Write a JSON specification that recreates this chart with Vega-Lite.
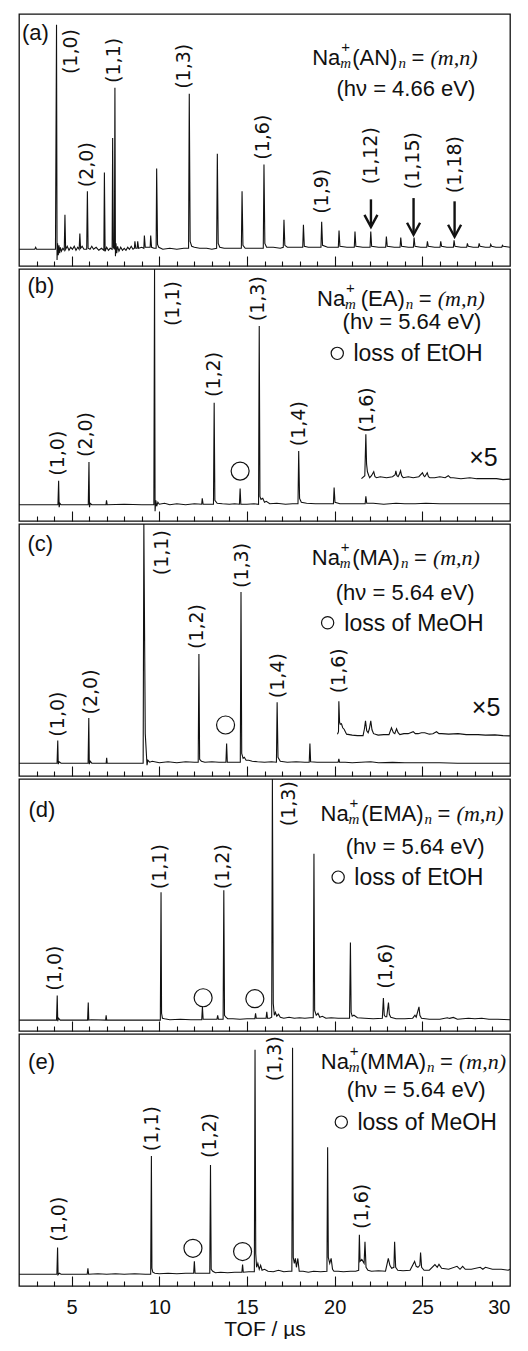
{
"$schema": "https://vega.github.io/schema/vega-lite/v6.json",
"background": "white",
"padding": {"left": 16, "top": 13, "right": 0, "bottom": 0},
"config": {"font": "Liberation Sans", "view": {"stroke": "#111", "strokeWidth": 1.3}, "axis": {"grid": false}, "concat": {"spacing": 0}, "facet": {"spacing": 0}},
"spacing": 0,
"vconcat": [
{
"data": {"values": [
{"p":"a","k":"s","tof":2,"i":4},{"p":"a","k":"s","tof":2.9,"i":4},{"p":"a","k":"s","tof":2.95,"i":6},{"p":"a","k":"s","tof":3.0,"i":4},{"p":"a","k":"s","tof":4.08,"i":4},{"p":"a","k":"s","tof":4.14,"i":232},{"p":"a","k":"s","tof":4.17,"i":-7},{"p":"a","k":"s","tof":4.2,"i":10},{"p":"a","k":"s","tof":4.24,"i":-2},{"p":"a","k":"s","tof":4.28,"i":8},{"p":"a","k":"s","tof":4.32,"i":0},{"p":"a","k":"s","tof":4.36,"i":6},{"p":"a","k":"s","tof":4.42,"i":2},{"p":"a","k":"s","tof":4.5,"i":5},{"p":"a","k":"s","tof":4.58,"i":3},{"p":"a","k":"s","tof":4.62,"i":39},{"p":"a","k":"s","tof":4.66,"i":4},{"p":"a","k":"s","tof":4.75,"i":7},{"p":"a","k":"s","tof":4.85,"i":3},{"p":"a","k":"s","tof":4.95,"i":6},{"p":"a","k":"s","tof":5.05,"i":4},{"p":"a","k":"s","tof":5.15,"i":7},{"p":"a","k":"s","tof":5.25,"i":3},{"p":"a","k":"s","tof":5.35,"i":6},{"p":"a","k":"s","tof":5.43,"i":4},{"p":"a","k":"s","tof":5.47,"i":20},{"p":"a","k":"s","tof":5.51,"i":5},{"p":"a","k":"s","tof":5.6,"i":7},{"p":"a","k":"s","tof":5.7,"i":4},{"p":"a","k":"s","tof":5.86,"i":4},{"p":"a","k":"s","tof":5.9,"i":63},{"p":"a","k":"s","tof":5.94,"i":5},{"p":"a","k":"s","tof":6.05,"i":4},{"p":"a","k":"s","tof":6.15,"i":7},{"p":"a","k":"s","tof":6.25,"i":4},{"p":"a","k":"s","tof":6.4,"i":6},{"p":"a","k":"s","tof":6.55,"i":3},{"p":"a","k":"s","tof":6.7,"i":5},{"p":"a","k":"s","tof":6.84,"i":3},{"p":"a","k":"s","tof":6.87,"i":82},{"p":"a","k":"s","tof":6.91,"i":2},{"p":"a","k":"s","tof":7.0,"i":6},{"p":"a","k":"s","tof":7.1,"i":3},{"p":"a","k":"s","tof":7.2,"i":5},{"p":"a","k":"s","tof":7.31,"i":4},{"p":"a","k":"s","tof":7.34,"i":117},{"p":"a","k":"s","tof":7.38,"i":6},{"p":"a","k":"s","tof":7.44,"i":4},{"p":"a","k":"s","tof":7.47,"i":168},{"p":"a","k":"s","tof":7.5,"i":-3},{"p":"a","k":"s","tof":7.53,"i":10},{"p":"a","k":"s","tof":7.57,"i":0},{"p":"a","k":"s","tof":7.62,"i":7},{"p":"a","k":"s","tof":7.7,"i":2},{"p":"a","k":"s","tof":7.8,"i":6},{"p":"a","k":"s","tof":7.9,"i":3},{"p":"a","k":"s","tof":8.0,"i":5},{"p":"a","k":"s","tof":8.1,"i":3},{"p":"a","k":"s","tof":8.2,"i":6},{"p":"a","k":"s","tof":8.3,"i":4},{"p":"a","k":"s","tof":8.4,"i":7},{"p":"a","k":"s","tof":8.5,"i":4},{"p":"a","k":"s","tof":8.58,"i":5},{"p":"a","k":"s","tof":8.61,"i":12},{"p":"a","k":"s","tof":8.66,"i":5},{"p":"a","k":"s","tof":8.74,"i":5},{"p":"a","k":"s","tof":8.77,"i":12},{"p":"a","k":"s","tof":8.82,"i":5},{"p":"a","k":"s","tof":9.0,"i":6},{"p":"a","k":"s","tof":9.12,"i":5},{"p":"a","k":"s","tof":9.15,"i":18},{"p":"a","k":"s","tof":9.2,"i":6},{"p":"a","k":"s","tof":9.35,"i":6},{"p":"a","k":"s","tof":9.48,"i":6},{"p":"a","k":"s","tof":9.51,"i":18},{"p":"a","k":"s","tof":9.56,"i":6},{"p":"a","k":"s","tof":9.7,"i":5},{"p":"a","k":"s","tof":9.82,"i":5},{"p":"a","k":"s","tof":9.85,"i":86},{"p":"a","k":"s","tof":9.9,"i":9},{"p":"a","k":"s","tof":9.97,"i":6},{"p":"a","k":"s","tof":10.2,"i":4},{"p":"a","k":"s","tof":10.6,"i":5},{"p":"a","k":"s","tof":11.0,"i":4},{"p":"a","k":"s","tof":11.4,"i":5},{"p":"a","k":"s","tof":11.67,"i":5},{"p":"a","k":"s","tof":11.71,"i":162},{"p":"a","k":"s","tof":11.76,"i":12},{"p":"a","k":"s","tof":11.85,"i":7},{"p":"a","k":"s","tof":12.0,"i":6},{"p":"a","k":"s","tof":12.3,"i":5},{"p":"a","k":"s","tof":12.7,"i":5},{"p":"a","k":"s","tof":13.0,"i":4},{"p":"a","k":"s","tof":13.27,"i":5},{"p":"a","k":"s","tof":13.31,"i":101},{"p":"a","k":"s","tof":13.36,"i":10},{"p":"a","k":"s","tof":13.45,"i":6},{"p":"a","k":"s","tof":13.7,"i":5},{"p":"a","k":"s","tof":14.0,"i":5},{"p":"a","k":"s","tof":14.4,"i":5},{"p":"a","k":"s","tof":14.68,"i":5},{"p":"a","k":"s","tof":14.72,"i":63},{"p":"a","k":"s","tof":14.77,"i":8},{"p":"a","k":"s","tof":14.9,"i":5},{"p":"a","k":"s","tof":15.3,"i":5},{"p":"a","k":"s","tof":15.6,"i":5},{"p":"a","k":"s","tof":15.93,"i":5},{"p":"a","k":"s","tof":15.97,"i":90},{"p":"a","k":"s","tof":16.02,"i":10},{"p":"a","k":"s","tof":16.12,"i":6},{"p":"a","k":"s","tof":16.5,"i":6},{"p":"a","k":"s","tof":16.9,"i":5},{"p":"a","k":"s","tof":17.07,"i":6},{"p":"a","k":"s","tof":17.11,"i":34},{"p":"a","k":"s","tof":17.16,"i":8},{"p":"a","k":"s","tof":17.3,"i":6},{"p":"a","k":"s","tof":17.8,"i":6},{"p":"a","k":"s","tof":18.18,"i":6},{"p":"a","k":"s","tof":18.22,"i":29},{"p":"a","k":"s","tof":18.27,"i":7},{"p":"a","k":"s","tof":18.5,"i":6},{"p":"a","k":"s","tof":18.9,"i":6},{"p":"a","k":"s","tof":19.22,"i":6},{"p":"a","k":"s","tof":19.26,"i":32},{"p":"a","k":"s","tof":19.31,"i":8},{"p":"a","k":"s","tof":19.6,"i":6},{"p":"a","k":"s","tof":20.0,"i":6},{"p":"a","k":"s","tof":20.21,"i":6},{"p":"a","k":"s","tof":20.25,"i":23},{"p":"a","k":"s","tof":20.3,"i":7},{"p":"a","k":"s","tof":20.7,"i":6},{"p":"a","k":"s","tof":21.12,"i":6},{"p":"a","k":"s","tof":21.16,"i":22},{"p":"a","k":"s","tof":21.21,"i":7},{"p":"a","k":"s","tof":21.6,"i":6},{"p":"a","k":"s","tof":22.02,"i":6},{"p":"a","k":"s","tof":22.06,"i":22},{"p":"a","k":"s","tof":22.11,"i":7},{"p":"a","k":"s","tof":22.5,"i":6},{"p":"a","k":"s","tof":22.91,"i":6},{"p":"a","k":"s","tof":22.95,"i":17},{"p":"a","k":"s","tof":23.0,"i":7},{"p":"a","k":"s","tof":23.4,"i":6},{"p":"a","k":"s","tof":23.73,"i":6},{"p":"a","k":"s","tof":23.77,"i":16},{"p":"a","k":"s","tof":23.82,"i":7},{"p":"a","k":"s","tof":24.2,"i":6},{"p":"a","k":"s","tof":24.49,"i":6},{"p":"a","k":"s","tof":24.53,"i":16},{"p":"a","k":"s","tof":24.58,"i":7},{"p":"a","k":"s","tof":24.9,"i":6},{"p":"a","k":"s","tof":25.25,"i":6},{"p":"a","k":"s","tof":25.29,"i":12},{"p":"a","k":"s","tof":25.34,"i":7},{"p":"a","k":"s","tof":25.7,"i":6},{"p":"a","k":"s","tof":26.01,"i":6},{"p":"a","k":"s","tof":26.05,"i":12},{"p":"a","k":"s","tof":26.1,"i":7},{"p":"a","k":"s","tof":26.4,"i":6},{"p":"a","k":"s","tof":26.77,"i":6},{"p":"a","k":"s","tof":26.81,"i":13},{"p":"a","k":"s","tof":26.86,"i":7},{"p":"a","k":"s","tof":27.2,"i":6},{"p":"a","k":"s","tof":27.53,"i":6},{"p":"a","k":"s","tof":27.57,"i":10},{"p":"a","k":"s","tof":27.62,"i":7},{"p":"a","k":"s","tof":27.9,"i":6},{"p":"a","k":"s","tof":28.2,"i":6},{"p":"a","k":"s","tof":28.24,"i":10},{"p":"a","k":"s","tof":28.29,"i":7},{"p":"a","k":"s","tof":28.6,"i":6},{"p":"a","k":"s","tof":28.86,"i":6},{"p":"a","k":"s","tof":28.9,"i":9},{"p":"a","k":"s","tof":28.95,"i":7},{"p":"a","k":"s","tof":29.2,"i":6},{"p":"a","k":"s","tof":29.53,"i":6},{"p":"a","k":"s","tof":29.57,"i":8},{"p":"a","k":"s","tof":29.62,"i":7},{"p":"a","k":"s","tof":30,"i":6},

{"p":"b","k":"s","tof":2,"i":3.5},{"p":"b","k":"s","tof":4.22,"i":3.5},{"p":"b","k":"s","tof":4.26,"i":28},{"p":"b","k":"s","tof":4.29,"i":1},{"p":"b","k":"s","tof":4.33,"i":5},{"p":"b","k":"s","tof":4.4,"i":3.5},{"p":"b","k":"s","tof":5.95,"i":3.5},{"p":"b","k":"s","tof":5.99,"i":47},{"p":"b","k":"s","tof":6.02,"i":1},{"p":"b","k":"s","tof":6.06,"i":5},{"p":"b","k":"s","tof":6.15,"i":3.5},{"p":"b","k":"s","tof":6.96,"i":3.5},{"p":"b","k":"s","tof":6.99,"i":8},{"p":"b","k":"s","tof":7.03,"i":3.5},{"p":"b","k":"s","tof":8.0,"i":4},{"p":"b","k":"s","tof":9.0,"i":3.5},{"p":"b","k":"s","tof":9.69,"i":3.5},{"p":"b","k":"s","tof":9.73,"i":243},{"p":"b","k":"s","tof":9.76,"i":-3},{"p":"b","k":"s","tof":9.8,"i":8},{"p":"b","k":"s","tof":9.85,"i":2},{"p":"b","k":"s","tof":9.92,"i":6},{"p":"b","k":"s","tof":10.0,"i":4},{"p":"b","k":"s","tof":10.3,"i":5},{"p":"b","k":"s","tof":10.6,"i":3.5},{"p":"b","k":"s","tof":11.0,"i":4.5},{"p":"b","k":"s","tof":11.5,"i":3.5},{"p":"b","k":"s","tof":12.0,"i":4.5},{"p":"b","k":"s","tof":12.42,"i":4},{"p":"b","k":"s","tof":12.45,"i":10},{"p":"b","k":"s","tof":12.5,"i":4},{"p":"b","k":"s","tof":12.8,"i":4},{"p":"b","k":"s","tof":13.09,"i":4},{"p":"b","k":"s","tof":13.13,"i":107},{"p":"b","k":"s","tof":13.17,"i":8},{"p":"b","k":"s","tof":13.3,"i":5},{"p":"b","k":"s","tof":13.6,"i":4.5},{"p":"b","k":"s","tof":14.0,"i":4},{"p":"b","k":"s","tof":14.3,"i":4.5},{"p":"b","k":"s","tof":14.57,"i":4},{"p":"b","k":"s","tof":14.61,"i":20},{"p":"b","k":"s","tof":14.65,"i":4},{"p":"b","k":"s","tof":15.0,"i":4},{"p":"b","k":"s","tof":15.4,"i":4.5},{"p":"b","k":"s","tof":15.66,"i":4},{"p":"b","k":"s","tof":15.7,"i":185},{"p":"b","k":"s","tof":15.74,"i":12},{"p":"b","k":"s","tof":15.8,"i":9},{"p":"b","k":"s","tof":15.9,"i":10},{"p":"b","k":"s","tof":16.0,"i":6},{"p":"b","k":"s","tof":16.1,"i":7},{"p":"b","k":"s","tof":16.3,"i":4.5},{"p":"b","k":"s","tof":16.7,"i":5},{"p":"b","k":"s","tof":17.2,"i":4},{"p":"b","k":"s","tof":17.6,"i":4.5},{"p":"b","k":"s","tof":17.91,"i":4.5},{"p":"b","k":"s","tof":17.95,"i":58},{"p":"b","k":"s","tof":18.0,"i":10},{"p":"b","k":"s","tof":18.1,"i":6},{"p":"b","k":"s","tof":18.4,"i":5},{"p":"b","k":"s","tof":18.9,"i":4.5},{"p":"b","k":"s","tof":19.5,"i":4.5},{"p":"b","k":"s","tof":19.93,"i":4.5},{"p":"b","k":"s","tof":19.97,"i":21},{"p":"b","k":"s","tof":20.02,"i":6},{"p":"b","k":"s","tof":20.3,"i":4.5},{"p":"b","k":"s","tof":20.8,"i":4.5},{"p":"b","k":"s","tof":21.3,"i":4.5},{"p":"b","k":"s","tof":21.74,"i":4.5},{"p":"b","k":"s","tof":21.78,"i":12},{"p":"b","k":"s","tof":21.83,"i":5},{"p":"b","k":"s","tof":22.2,"i":5},{"p":"b","k":"s","tof":22.8,"i":4},{"p":"b","k":"s","tof":23.5,"i":5},{"p":"b","k":"s","tof":24.0,"i":4.5},{"p":"b","k":"s","tof":24.6,"i":4.5},{"p":"b","k":"s","tof":25.2,"i":5},{"p":"b","k":"s","tof":26.0,"i":4.5},{"p":"b","k":"s","tof":27.0,"i":4.5},{"p":"b","k":"s","tof":28.0,"i":4.5},{"p":"b","k":"s","tof":29.0,"i":4.5},{"p":"b","k":"s","tof":30,"i":4.5},
{"p":"b","k":"s5","tof":21.53,"i":30},{"p":"b","k":"s5","tof":21.72,"i":33},{"p":"b","k":"s5","tof":21.78,"i":75},{"p":"b","k":"s5","tof":21.82,"i":45},{"p":"b","k":"s5","tof":21.87,"i":37},{"p":"b","k":"s5","tof":21.95,"i":33},{"p":"b","k":"s5","tof":22.0,"i":31},{"p":"b","k":"s5","tof":22.1,"i":33},{"p":"b","k":"s5","tof":22.23,"i":37},{"p":"b","k":"s5","tof":22.3,"i":32},{"p":"b","k":"s5","tof":22.39,"i":31},{"p":"b","k":"s5","tof":22.6,"i":32},{"p":"b","k":"s5","tof":22.96,"i":31},{"p":"b","k":"s5","tof":23.3,"i":32},{"p":"b","k":"s5","tof":23.45,"i":34},{"p":"b","k":"s5","tof":23.49,"i":38},{"p":"b","k":"s5","tof":23.55,"i":33},{"p":"b","k":"s5","tof":23.62,"i":32},{"p":"b","k":"s5","tof":23.7,"i":35},{"p":"b","k":"s5","tof":23.76,"i":38},{"p":"b","k":"s5","tof":23.82,"i":33},{"p":"b","k":"s5","tof":23.91,"i":31},{"p":"b","k":"s5","tof":24.2,"i":32},{"p":"b","k":"s5","tof":24.48,"i":31},{"p":"b","k":"s5","tof":24.8,"i":32},{"p":"b","k":"s5","tof":25.01,"i":36},{"p":"b","k":"s5","tof":25.08,"i":33},{"p":"b","k":"s5","tof":25.14,"i":32},{"p":"b","k":"s5","tof":25.28,"i":36},{"p":"b","k":"s5","tof":25.35,"i":32},{"p":"b","k":"s5","tof":25.43,"i":31},{"p":"b","k":"s5","tof":25.7,"i":31},{"p":"b","k":"s5","tof":26.0,"i":32},{"p":"b","k":"s5","tof":26.3,"i":31},{"p":"b","k":"s5","tof":26.48,"i":33},{"p":"b","k":"s5","tof":26.6,"i":31},{"p":"b","k":"s5","tof":26.76,"i":31},{"p":"b","k":"s5","tof":27.2,"i":30},{"p":"b","k":"s5","tof":27.71,"i":31},{"p":"b","k":"s5","tof":28.1,"i":30},{"p":"b","k":"s5","tof":28.47,"i":30},{"p":"b","k":"s5","tof":28.9,"i":30},{"p":"b","k":"s5","tof":29.23,"i":30},{"p":"b","k":"s5","tof":29.6,"i":29},{"p":"b","k":"s5","tof":30,"i":29.5},

{"p":"c","k":"s","tof":2,"i":0},{"p":"c","k":"s","tof":4.17,"i":0},{"p":"c","k":"s","tof":4.21,"i":23},{"p":"c","k":"s","tof":4.24,"i":-1},{"p":"c","k":"s","tof":4.28,"i":1.5},{"p":"c","k":"s","tof":4.4,"i":0},{"p":"c","k":"s","tof":5.94,"i":0},{"p":"c","k":"s","tof":5.98,"i":46},{"p":"c","k":"s","tof":6.01,"i":-1},{"p":"c","k":"s","tof":6.06,"i":2},{"p":"c","k":"s","tof":6.15,"i":0},{"p":"c","k":"s","tof":6.97,"i":0},{"p":"c","k":"s","tof":7.0,"i":5.5},{"p":"c","k":"s","tof":7.03,"i":0},{"p":"c","k":"s","tof":9.08,"i":0},{"p":"c","k":"s","tof":9.12,"i":243},{"p":"c","k":"s","tof":9.2,"i":30},{"p":"c","k":"s","tof":9.3,"i":-2},{"p":"c","k":"s","tof":9.35,"i":3},{"p":"c","k":"s","tof":9.45,"i":1},{"p":"c","k":"s","tof":9.6,"i":2},{"p":"c","k":"s","tof":10.0,"i":0.5},{"p":"c","k":"s","tof":10.5,"i":1.5},{"p":"c","k":"s","tof":11.0,"i":0.5},{"p":"c","k":"s","tof":11.5,"i":1.5},{"p":"c","k":"s","tof":12.0,"i":1},{"p":"c","k":"s","tof":12.22,"i":1},{"p":"c","k":"s","tof":12.26,"i":111},{"p":"c","k":"s","tof":12.3,"i":4},{"p":"c","k":"s","tof":12.4,"i":2},{"p":"c","k":"s","tof":12.6,"i":1},{"p":"c","k":"s","tof":13.0,"i":1.5},{"p":"c","k":"s","tof":13.4,"i":1},{"p":"c","k":"s","tof":13.8,"i":1},{"p":"c","k":"s","tof":13.84,"i":20},{"p":"c","k":"s","tof":13.88,"i":1},{"p":"c","k":"s","tof":14.2,"i":1},{"p":"c","k":"s","tof":14.62,"i":1},{"p":"c","k":"s","tof":14.66,"i":174},{"p":"c","k":"s","tof":14.7,"i":10},{"p":"c","k":"s","tof":14.78,"i":5},{"p":"c","k":"s","tof":14.85,"i":6},{"p":"c","k":"s","tof":14.95,"i":3},{"p":"c","k":"s","tof":15.1,"i":3},{"p":"c","k":"s","tof":15.3,"i":2},{"p":"c","k":"s","tof":15.6,"i":1.5},{"p":"c","k":"s","tof":16.0,"i":1},{"p":"c","k":"s","tof":16.4,"i":1.5},{"p":"c","k":"s","tof":16.68,"i":1},{"p":"c","k":"s","tof":16.72,"i":62},{"p":"c","k":"s","tof":16.77,"i":6},{"p":"c","k":"s","tof":16.9,"i":2},{"p":"c","k":"s","tof":17.3,"i":1},{"p":"c","k":"s","tof":17.8,"i":1.5},{"p":"c","k":"s","tof":18.3,"i":1},{"p":"c","k":"s","tof":18.55,"i":1},{"p":"c","k":"s","tof":18.59,"i":20},{"p":"c","k":"s","tof":18.63,"i":1.5},{"p":"c","k":"s","tof":19.0,"i":1},{"p":"c","k":"s","tof":19.5,"i":1},{"p":"c","k":"s","tof":20.0,"i":1},{"p":"c","k":"s","tof":20.2,"i":1},{"p":"c","k":"s","tof":20.24,"i":4.5},{"p":"c","k":"s","tof":20.28,"i":1},{"p":"c","k":"s","tof":20.6,"i":1},{"p":"c","k":"s","tof":21.0,"i":0.5},{"p":"c","k":"s","tof":21.76,"i":1.2},{"p":"c","k":"s","tof":22.06,"i":1.5},{"p":"c","k":"s","tof":22.5,"i":0.5},{"p":"c","k":"s","tof":23.3,"i":0.8},{"p":"c","k":"s","tof":24.0,"i":0.5},{"p":"c","k":"s","tof":25.0,"i":0.5},{"p":"c","k":"s","tof":26.0,"i":0.5},{"p":"c","k":"s","tof":27.0,"i":0},{"p":"c","k":"s","tof":28.0,"i":0},{"p":"c","k":"s","tof":29.0,"i":0},{"p":"c","k":"s","tof":30,"i":0},
{"p":"c","k":"s5","tof":20.16,"i":29.5},{"p":"c","k":"s5","tof":20.22,"i":32},{"p":"c","k":"s5","tof":20.24,"i":63},{"p":"c","k":"s5","tof":20.28,"i":42},{"p":"c","k":"s5","tof":20.32,"i":39.5},{"p":"c","k":"s5","tof":20.39,"i":40},{"p":"c","k":"s5","tof":20.46,"i":36},{"p":"c","k":"s5","tof":20.54,"i":34.5},{"p":"c","k":"s5","tof":20.68,"i":29.5},{"p":"c","k":"s5","tof":21.0,"i":28.5},{"p":"c","k":"s5","tof":21.3,"i":28},{"p":"c","k":"s5","tof":21.62,"i":28},{"p":"c","k":"s5","tof":21.7,"i":35},{"p":"c","k":"s5","tof":21.76,"i":43},{"p":"c","k":"s5","tof":21.83,"i":33},{"p":"c","k":"s5","tof":21.91,"i":31},{"p":"c","k":"s5","tof":21.98,"i":35},{"p":"c","k":"s5","tof":22.06,"i":43},{"p":"c","k":"s5","tof":22.13,"i":34},{"p":"c","k":"s5","tof":22.22,"i":30},{"p":"c","k":"s5","tof":22.48,"i":28.5},{"p":"c","k":"s5","tof":22.8,"i":29},{"p":"c","k":"s5","tof":23.1,"i":29},{"p":"c","k":"s5","tof":23.24,"i":36},{"p":"c","k":"s5","tof":23.35,"i":31},{"p":"c","k":"s5","tof":23.43,"i":30},{"p":"c","k":"s5","tof":23.53,"i":35},{"p":"c","k":"s5","tof":23.62,"i":31},{"p":"c","k":"s5","tof":23.72,"i":29},{"p":"c","k":"s5","tof":23.95,"i":30},{"p":"c","k":"s5","tof":24.19,"i":30},{"p":"c","k":"s5","tof":24.48,"i":32},{"p":"c","k":"s5","tof":24.6,"i":30},{"p":"c","k":"s5","tof":24.76,"i":30},{"p":"c","k":"s5","tof":24.95,"i":31},{"p":"c","k":"s5","tof":25.14,"i":31},{"p":"c","k":"s5","tof":25.4,"i":29.5},{"p":"c","k":"s5","tof":25.6,"i":30},{"p":"c","k":"s5","tof":25.81,"i":32},{"p":"c","k":"s5","tof":25.95,"i":30},{"p":"c","k":"s5","tof":26.1,"i":30},{"p":"c","k":"s5","tof":26.5,"i":29.5},{"p":"c","k":"s5","tof":27.04,"i":30},{"p":"c","k":"s5","tof":27.5,"i":29},{"p":"c","k":"s5","tof":28.18,"i":29},{"p":"c","k":"s5","tof":28.6,"i":28.5},{"p":"c","k":"s5","tof":29.14,"i":28.8},{"p":"c","k":"s5","tof":29.6,"i":28},{"p":"c","k":"s5","tof":30,"i":27.8},

{"p":"d","k":"s","tof":2,"i":-2},{"p":"d","k":"s","tof":4.14,"i":-2},{"p":"d","k":"s","tof":4.18,"i":23},{"p":"d","k":"s","tof":4.21,"i":-3},{"p":"d","k":"s","tof":4.25,"i":0},{"p":"d","k":"s","tof":4.35,"i":-2},{"p":"d","k":"s","tof":5.91,"i":-2},{"p":"d","k":"s","tof":5.95,"i":16},{"p":"d","k":"s","tof":5.98,"i":-2},{"p":"d","k":"s","tof":6.1,"i":-1.5},{"p":"d","k":"s","tof":6.94,"i":-2},{"p":"d","k":"s","tof":6.97,"i":3},{"p":"d","k":"s","tof":7.0,"i":-2},{"p":"d","k":"s","tof":10.06,"i":-2},{"p":"d","k":"s","tof":10.1,"i":128},{"p":"d","k":"s","tof":10.13,"i":5},{"p":"d","k":"s","tof":10.18,"i":0},{"p":"d","k":"s","tof":10.3,"i":-0.5},{"p":"d","k":"s","tof":10.6,"i":-1.5},{"p":"d","k":"s","tof":11.2,"i":-1},{"p":"d","k":"s","tof":11.8,"i":-1.5},{"p":"d","k":"s","tof":12.42,"i":-1.5},{"p":"d","k":"s","tof":12.46,"i":11.5},{"p":"d","k":"s","tof":12.5,"i":-1},{"p":"d","k":"s","tof":12.9,"i":-1},{"p":"d","k":"s","tof":13.29,"i":-1},{"p":"d","k":"s","tof":13.33,"i":3},{"p":"d","k":"s","tof":13.37,"i":-1},{"p":"d","k":"s","tof":13.64,"i":-1},{"p":"d","k":"s","tof":13.68,"i":130},{"p":"d","k":"s","tof":13.72,"i":3},{"p":"d","k":"s","tof":13.8,"i":1},{"p":"d","k":"s","tof":13.9,"i":-0.5},{"p":"d","k":"s","tof":14.2,"i":-0.5},{"p":"d","k":"s","tof":14.6,"i":-1},{"p":"d","k":"s","tof":15.0,"i":-0.5},{"p":"d","k":"s","tof":15.45,"i":-0.5},{"p":"d","k":"s","tof":15.49,"i":5},{"p":"d","k":"s","tof":15.53,"i":0},{"p":"d","k":"s","tof":15.8,"i":0},{"p":"d","k":"s","tof":16.09,"i":0},{"p":"d","k":"s","tof":16.13,"i":6.5},{"p":"d","k":"s","tof":16.17,"i":0},{"p":"d","k":"s","tof":16.3,"i":0},{"p":"d","k":"s","tof":16.41,"i":1},{"p":"d","k":"s","tof":16.45,"i":243},{"p":"d","k":"s","tof":16.5,"i":15},{"p":"d","k":"s","tof":16.56,"i":3},{"p":"d","k":"s","tof":16.62,"i":6},{"p":"d","k":"s","tof":16.7,"i":2},{"p":"d","k":"s","tof":16.8,"i":4},{"p":"d","k":"s","tof":16.9,"i":1},{"p":"d","k":"s","tof":17.1,"i":0},{"p":"d","k":"s","tof":17.4,"i":1},{"p":"d","k":"s","tof":17.7,"i":0},{"p":"d","k":"s","tof":18.0,"i":0.5},{"p":"d","k":"s","tof":18.3,"i":0},{"p":"d","k":"s","tof":18.6,"i":0.5},{"p":"d","k":"s","tof":18.78,"i":0.5},{"p":"d","k":"s","tof":18.82,"i":167},{"p":"d","k":"s","tof":18.86,"i":8},{"p":"d","k":"s","tof":18.95,"i":3},{"p":"d","k":"s","tof":19.05,"i":5},{"p":"d","k":"s","tof":19.15,"i":1},{"p":"d","k":"s","tof":19.3,"i":2},{"p":"d","k":"s","tof":19.5,"i":0},{"p":"d","k":"s","tof":19.8,"i":0.5},{"p":"d","k":"s","tof":20.2,"i":0},{"p":"d","k":"s","tof":20.6,"i":0},{"p":"d","k":"s","tof":20.85,"i":0},{"p":"d","k":"s","tof":20.9,"i":77},{"p":"d","k":"s","tof":20.94,"i":6},{"p":"d","k":"s","tof":21.0,"i":2},{"p":"d","k":"s","tof":21.1,"i":3},{"p":"d","k":"s","tof":21.3,"i":0.5},{"p":"d","k":"s","tof":21.7,"i":0},{"p":"d","k":"s","tof":22.2,"i":-0.5},{"p":"d","k":"s","tof":22.72,"i":0},{"p":"d","k":"s","tof":22.78,"i":20.5},{"p":"d","k":"s","tof":22.83,"i":3},{"p":"d","k":"s","tof":22.9,"i":1.5},{"p":"d","k":"s","tof":22.97,"i":1.5},{"p":"d","k":"s","tof":23.07,"i":16},{"p":"d","k":"s","tof":23.12,"i":4},{"p":"d","k":"s","tof":23.2,"i":1},{"p":"d","k":"s","tof":23.5,"i":-0.5},{"p":"d","k":"s","tof":24.0,"i":-0.5},{"p":"d","k":"s","tof":24.45,"i":0},{"p":"d","k":"s","tof":24.58,"i":3},{"p":"d","k":"s","tof":24.65,"i":1},{"p":"d","k":"s","tof":24.81,"i":11.5},{"p":"d","k":"s","tof":24.86,"i":3},{"p":"d","k":"s","tof":24.95,"i":0},{"p":"d","k":"s","tof":25.4,"i":-1},{"p":"d","k":"s","tof":26.0,"i":-1},{"p":"d","k":"s","tof":26.43,"i":0.5},{"p":"d","k":"s","tof":26.55,"i":-0.2},{"p":"d","k":"s","tof":26.77,"i":0.8},{"p":"d","k":"s","tof":27.0,"i":-1},{"p":"d","k":"s","tof":27.63,"i":0},{"p":"d","k":"s","tof":28.0,"i":-0.5},{"p":"d","k":"s","tof":28.39,"i":0},{"p":"d","k":"s","tof":28.8,"i":-1},{"p":"d","k":"s","tof":29.3,"i":-1},{"p":"d","k":"s","tof":30,"i":-1.5},

{"p":"e","k":"s","tof":2,"i":-1},{"p":"e","k":"s","tof":4.16,"i":-1},{"p":"e","k":"s","tof":4.2,"i":26},{"p":"e","k":"s","tof":4.23,"i":-1.5},{"p":"e","k":"s","tof":4.3,"i":0},{"p":"e","k":"s","tof":4.4,"i":-1},{"p":"e","k":"s","tof":5.89,"i":-1},{"p":"e","k":"s","tof":5.93,"i":5},{"p":"e","k":"s","tof":5.97,"i":-1},{"p":"e","k":"s","tof":6.5,"i":-0.5},{"p":"e","k":"s","tof":7.0,"i":-1},{"p":"e","k":"s","tof":7.5,"i":-0.5},{"p":"e","k":"s","tof":8.0,"i":-1},{"p":"e","k":"s","tof":8.6,"i":-0.5},{"p":"e","k":"s","tof":9.2,"i":-1},{"p":"e","k":"s","tof":9.51,"i":-1},{"p":"e","k":"s","tof":9.55,"i":119},{"p":"e","k":"s","tof":9.58,"i":5},{"p":"e","k":"s","tof":9.63,"i":1},{"p":"e","k":"s","tof":9.75,"i":0},{"p":"e","k":"s","tof":10.0,"i":-0.5},{"p":"e","k":"s","tof":10.5,"i":0},{"p":"e","k":"s","tof":11.0,"i":-0.5},{"p":"e","k":"s","tof":11.5,"i":0},{"p":"e","k":"s","tof":11.96,"i":0},{"p":"e","k":"s","tof":12.0,"i":12},{"p":"e","k":"s","tof":12.04,"i":0},{"p":"e","k":"s","tof":12.4,"i":0},{"p":"e","k":"s","tof":12.88,"i":0},{"p":"e","k":"s","tof":12.92,"i":110},{"p":"e","k":"s","tof":12.96,"i":4},{"p":"e","k":"s","tof":13.05,"i":2},{"p":"e","k":"s","tof":13.2,"i":0.5},{"p":"e","k":"s","tof":13.5,"i":1},{"p":"e","k":"s","tof":13.9,"i":0.5},{"p":"e","k":"s","tof":14.3,"i":1},{"p":"e","k":"s","tof":14.71,"i":1},{"p":"e","k":"s","tof":14.75,"i":8.7},{"p":"e","k":"s","tof":14.79,"i":1},{"p":"e","k":"s","tof":15.1,"i":1.5},{"p":"e","k":"s","tof":15.42,"i":1.5},{"p":"e","k":"s","tof":15.46,"i":227},{"p":"e","k":"s","tof":15.5,"i":20},{"p":"e","k":"s","tof":15.55,"i":6},{"p":"e","k":"s","tof":15.62,"i":10},{"p":"e","k":"s","tof":15.7,"i":4},{"p":"e","k":"s","tof":15.78,"i":8},{"p":"e","k":"s","tof":15.86,"i":3},{"p":"e","k":"s","tof":16.0,"i":4},{"p":"e","k":"s","tof":16.2,"i":2},{"p":"e","k":"s","tof":16.5,"i":1.5},{"p":"e","k":"s","tof":16.8,"i":3},{"p":"e","k":"s","tof":17.1,"i":1.5},{"p":"e","k":"s","tof":17.4,"i":2},{"p":"e","k":"s","tof":17.56,"i":2},{"p":"e","k":"s","tof":17.6,"i":229},{"p":"e","k":"s","tof":17.64,"i":16},{"p":"e","k":"s","tof":17.7,"i":10},{"p":"e","k":"s","tof":17.76,"i":15},{"p":"e","k":"s","tof":17.82,"i":6},{"p":"e","k":"s","tof":17.9,"i":15},{"p":"e","k":"s","tof":17.98,"i":2},{"p":"e","k":"s","tof":18.2,"i":2},{"p":"e","k":"s","tof":18.5,"i":1},{"p":"e","k":"s","tof":18.8,"i":2},{"p":"e","k":"s","tof":19.2,"i":1.5},{"p":"e","k":"s","tof":19.56,"i":2},{"p":"e","k":"s","tof":19.6,"i":128},{"p":"e","k":"s","tof":19.64,"i":16},{"p":"e","k":"s","tof":19.72,"i":10},{"p":"e","k":"s","tof":19.8,"i":15},{"p":"e","k":"s","tof":19.88,"i":4},{"p":"e","k":"s","tof":19.96,"i":2},{"p":"e","k":"s","tof":20.2,"i":2},{"p":"e","k":"s","tof":20.5,"i":1.5},{"p":"e","k":"s","tof":20.9,"i":2},{"p":"e","k":"s","tof":21.2,"i":2},{"p":"e","k":"s","tof":21.37,"i":3},{"p":"e","k":"s","tof":21.41,"i":39},{"p":"e","k":"s","tof":21.45,"i":12},{"p":"e","k":"s","tof":21.55,"i":14},{"p":"e","k":"s","tof":21.68,"i":10},{"p":"e","k":"s","tof":21.73,"i":32},{"p":"e","k":"s","tof":21.79,"i":6},{"p":"e","k":"s","tof":21.9,"i":3},{"p":"e","k":"s","tof":22.1,"i":2},{"p":"e","k":"s","tof":22.5,"i":2.5},{"p":"e","k":"s","tof":22.9,"i":2},{"p":"e","k":"s","tof":23.06,"i":15},{"p":"e","k":"s","tof":23.15,"i":8},{"p":"e","k":"s","tof":23.25,"i":5},{"p":"e","k":"s","tof":23.38,"i":6},{"p":"e","k":"s","tof":23.42,"i":32},{"p":"e","k":"s","tof":23.48,"i":6},{"p":"e","k":"s","tof":23.6,"i":3},{"p":"e","k":"s","tof":23.9,"i":2.5},{"p":"e","k":"s","tof":24.3,"i":3},{"p":"e","k":"s","tof":24.56,"i":12},{"p":"e","k":"s","tof":24.65,"i":7},{"p":"e","k":"s","tof":24.75,"i":6},{"p":"e","k":"s","tof":24.86,"i":8},{"p":"e","k":"s","tof":24.9,"i":21},{"p":"e","k":"s","tof":24.96,"i":6},{"p":"e","k":"s","tof":25.1,"i":3},{"p":"e","k":"s","tof":25.4,"i":3},{"p":"e","k":"s","tof":25.72,"i":8.7},{"p":"e","k":"s","tof":25.85,"i":6},{"p":"e","k":"s","tof":25.95,"i":9},{"p":"e","k":"s","tof":26.1,"i":5},{"p":"e","k":"s","tof":26.5,"i":4},{"p":"e","k":"s","tof":26.98,"i":7},{"p":"e","k":"s","tof":27.15,"i":4},{"p":"e","k":"s","tof":27.3,"i":7},{"p":"e","k":"s","tof":27.45,"i":4},{"p":"e","k":"s","tof":27.8,"i":4},{"p":"e","k":"s","tof":28.3,"i":6},{"p":"e","k":"s","tof":28.45,"i":4},{"p":"e","k":"s","tof":28.6,"i":6},{"p":"e","k":"s","tof":29.0,"i":4},{"p":"e","k":"s","tof":29.5,"i":4},{"p":"e","k":"s","tof":29.9,"i":3},{"p":"e","k":"s","tof":30,"i":4},

{"p":"a","k":"lab","tof":4.98,"i":182,"txt":"(1,0)"},{"p":"a","k":"lab","tof":5.88,"i":67,"txt":"(2,0)"},{"p":"a","k":"lab","tof":7.39,"i":173,"txt":"(1,1)"},{"p":"a","k":"lab","tof":11.41,"i":167,"txt":"(1,3)"},{"p":"a","k":"lab","tof":15.91,"i":95,"txt":"(1,6)"},{"p":"a","k":"lab","tof":19.28,"i":40,"txt":"(1,9)"},{"p":"a","k":"lab","tof":22.07,"i":70,"txt":"(1,12)"},{"p":"a","k":"lab","tof":24.48,"i":65,"txt":"(1,15)"},{"p":"a","k":"lab","tof":26.88,"i":61,"txt":"(1,18)"},
{"p":"b","k":"lab","tof":4.21,"i":33,"txt":"(1,0)"},{"p":"b","k":"lab","tof":5.84,"i":52,"txt":"(2,0)"},{"p":"b","k":"lab","tof":10.81,"i":185,"txt":"(1,1)"},{"p":"b","k":"lab","tof":13.13,"i":113,"txt":"(1,2)"},{"p":"b","k":"lab","tof":15.64,"i":190,"txt":"(1,3)"},{"p":"b","k":"lab","tof":17.94,"i":63,"txt":"(1,4)"},{"p":"b","k":"lab","tof":21.82,"i":77,"txt":"(1,6)"},
{"p":"c","k":"lab","tof":4.21,"i":27,"txt":"(1,0)"},{"p":"c","k":"lab","tof":6.08,"i":49.5,"txt":"(2,0)"},{"p":"c","k":"lab","tof":10.18,"i":191,"txt":"(1,1)"},{"p":"c","k":"lab","tof":12.16,"i":116,"txt":"(1,2)"},{"p":"c","k":"lab","tof":14.7,"i":178,"txt":"(1,3)"},{"p":"c","k":"lab","tof":16.76,"i":66,"txt":"(1,4)"},{"p":"c","k":"lab","tof":20.23,"i":71,"txt":"(1,6)"},
{"p":"d","k":"lab","tof":4.05,"i":28,"txt":"(1,0)"},{"p":"d","k":"lab","tof":10.06,"i":131,"txt":"(1,1)"},{"p":"d","k":"lab","tof":13.66,"i":131,"txt":"(1,2)"},{"p":"d","k":"lab","tof":17.42,"i":195,"txt":"(1,3)"},{"p":"d","k":"lab","tof":22.91,"i":30,"txt":"(1,6)"},
{"p":"e","k":"lab","tof":4.3,"i":32,"txt":"(1,0)"},{"p":"e","k":"lab","tof":9.59,"i":124,"txt":"(1,1)"},{"p":"e","k":"lab","tof":12.92,"i":117,"txt":"(1,2)"},{"p":"e","k":"lab","tof":16.58,"i":195,"txt":"(1,3)"},{"p":"e","k":"lab","tof":21.58,"i":45,"txt":"(1,6)"},

{"p":"a","k":"arrow","tof":22.07,"i":54.7,"i2":27.5},{"p":"a","k":"arrow","tof":24.5,"i":56,"i2":19.5},{"p":"a","k":"arrow","tof":26.84,"i":52.7,"i2":17.5},
{"p":"a","k":"head","tof":22.07,"i":26.7},{"p":"a","k":"head","tof":24.5,"i":18.7},{"p":"a","k":"head","tof":26.84,"i":16.7},

{"p":"b","k":"circ","tof":14.61,"i":37.7},{"p":"c","k":"circ","tof":13.78,"i":38.8},{"p":"d","k":"circ","tof":12.5,"i":20.8},{"p":"d","k":"circ","tof":15.45,"i":19.8},{"p":"e","k":"circ","tof":11.92,"i":25.3},{"p":"e","k":"circ","tof":14.75,"i":22},
{"p":"b","k":"lcirc","tof":20.15,"i":157.3},{"p":"c","k":"lcirc","tof":19.6,"i":142.7},{"p":"d","k":"lcirc","tof":20.2,"i":143.3},{"p":"e","k":"lcirc","tof":20.38,"i":153.5},
{"p":"b","k":"loss","tof":21.07,"i":149.3,"txt":"loss of EtOH"},{"p":"c","k":"loss","tof":20.55,"i":134.7,"txt":"loss of MeOH"},{"p":"d","k":"loss","tof":21.12,"i":135.3,"txt":"loss of EtOH"},{"p":"e","k":"loss","tof":21.3,"i":145.5,"txt":"loss of MeOH"},

{"p":"a","k":"letter","tof":2.17,"i":224,"txt":"(a)"},{"p":"b","k":"letter","tof":2.48,"i":225.7,"txt":"(b)"},{"p":"c","k":"letter","tof":2.48,"i":222.7,"txt":"(c)"},{"p":"d","k":"letter","tof":2.54,"i":212,"txt":"(d)"},{"p":"e","k":"letter","tof":2.52,"i":214.2,"txt":"(e)"},

{"p":"a","k":"na","tof":18.72,"i":191},{"p":"b","k":"na","tof":19.0,"i":205.7},{"p":"c","k":"na","tof":18.7,"i":201},{"p":"d","k":"na","tof":19.2,"i":200},{"p":"e","k":"na","tof":19.21,"i":207.5},
{"p":"a","k":"mol","tof":23.58,"i":191,"txt":"(AN)"},{"p":"b","k":"mol","tof":24.0,"i":205.7,"txt":"(EA)"},{"p":"c","k":"mol","tof":23.72,"i":201,"txt":"(MA)"},{"p":"d","k":"mol","tof":25.07,"i":200,"txt":"(EMA)"},{"p":"e","k":"mol","tof":25.21,"i":207.5,"txt":"(MMA)"},
{"p":"a","k":"hv","tof":28.02,"i":160,"txt":"(hν = 4.66 eV)"},{"p":"b","k":"hv","tof":28.37,"i":181.8,"txt":"(hν = 5.64 eV)"},{"p":"c","k":"hv","tof":27.98,"i":166,"txt":"(hν = 5.64 eV)"},{"p":"d","k":"hv","tof":28.55,"i":166.7,"txt":"(hν = 5.64 eV)"},{"p":"e","k":"hv","tof":28.61,"i":179.2,"txt":"(hν = 5.64 eV)"},
{"p":"b","k":"x5","tof":29.3,"i":43.3,"txt":"×5"},{"p":"c","k":"x5","tof":29.45,"i":47.8,"txt":"×5"}
]},
"facet": {"row": {"field": "p", "type": "nominal", "title": null, "header": {"labels": false, "title": null}}},
"spacing": 0,
"resolve": {"axis": {"x": "independent"}},
"spec": {
"width": 491,
"height": 252,
"encoding": {
"x": {"field": "tof", "type": "quantitative", "scale": {"domain": [2, 30], "nice": false, "zero": false},
"axis": {"values": [3,4,5,6,7,8,9,10,11,12,13,14,15,16,17,18,19,20,21,22,23,24,25,26,27,28,29], "tickSize": {"condition": {"test": "datum.value % 5 === 0", "value": -10}, "value": -5}, "labels": false, "domain": false, "title": null, "grid": false, "tickColor": "#111", "tickWidth": 1.1}},
"y": {"field": "i", "type": "quantitative", "scale": {"domain": [-13, 243], "nice": false, "zero": false}, "axis": null}
},
"layer": [
{"transform": [{"filter": {"field": "k", "oneOf": ["s", "s5"]}}], "mark": {"type": "line", "color": "#111", "strokeWidth": 1.1, "clip": true}, "encoding": {"detail": {"field": "k"}}},
{"transform": [{"filter": "datum.k === 'arrow'"}], "mark": {"type": "rule", "color": "#111", "strokeWidth": 2.4}, "encoding": {"y2": {"field": "i2"}}},
{"transform": [{"filter": "datum.k === 'head'"}], "mark": {"type": "point", "shape": "M-1,-1.85L0,0L1,-1.85", "size": 169, "filled": false, "stroke": "#111", "strokeWidth": 2.4, "opacity": 1}},
{"transform": [{"filter": "datum.k === 'circ'"}], "mark": {"type": "point", "shape": "circle", "size": 324, "filled": false, "stroke": "#111", "strokeWidth": 1.2, "opacity": 1}},
{"transform": [{"filter": "datum.k === 'lcirc'"}], "mark": {"type": "point", "shape": "circle", "size": 150, "filled": false, "stroke": "#111", "strokeWidth": 1.2, "opacity": 1}},
{"transform": [{"filter": "datum.k === 'lab'"}], "mark": {"type": "text", "angle": 270, "align": "left", "baseline": "middle", "font": "DejaVu Sans", "fontSize": 19, "color": "#111"}, "encoding": {"text": {"field": "txt"}}},
{"transform": [{"filter": "datum.k === 'letter'"}], "mark": {"type": "text", "align": "left", "baseline": "middle", "fontSize": 22, "color": "#111"}, "encoding": {"text": {"field": "txt"}}},
{"transform": [{"filter": "datum.k === 'na'"}], "mark": {"type": "text", "text": "Na", "align": "left", "baseline": "alphabetic", "fontSize": 22, "color": "#111"}},
{"transform": [{"filter": "datum.k === 'na'"}], "mark": {"type": "text", "text": "+", "align": "left", "baseline": "alphabetic", "fontSize": 15, "dx": 29, "dy": -13, "color": "#111"}},
{"transform": [{"filter": "datum.k === 'na'"}], "mark": {"type": "text", "text": "m", "align": "left", "baseline": "alphabetic", "font": "Liberation Serif", "fontStyle": "italic", "fontSize": 15, "dx": 28, "dy": 3, "color": "#111"}},
{"transform": [{"filter": "datum.k === 'mol'"}], "mark": {"type": "text", "align": "right", "baseline": "alphabetic", "fontSize": 22, "color": "#111"}, "encoding": {"text": {"field": "txt"}}},
{"transform": [{"filter": "datum.k === 'mol'"}], "mark": {"type": "text", "text": "n", "align": "left", "baseline": "alphabetic", "font": "Liberation Serif", "fontStyle": "italic", "fontSize": 15, "dx": 1, "dy": 3, "color": "#111"}},
{"transform": [{"filter": "datum.k === 'mol'"}], "mark": {"type": "text", "text": "=", "align": "left", "baseline": "alphabetic", "fontSize": 22, "dx": 14, "color": "#111"}},
{"transform": [{"filter": "datum.k === 'mol'"}], "mark": {"type": "text", "text": "(m,n)", "align": "left", "baseline": "alphabetic", "font": "Liberation Serif", "fontStyle": "italic", "fontSize": 22, "dx": 33, "color": "#111"}},
{"transform": [{"filter": "datum.k === 'hv'"}], "mark": {"type": "text", "align": "right", "baseline": "alphabetic", "fontSize": 22, "color": "#111"}, "encoding": {"text": {"field": "txt"}}},
{"transform": [{"filter": "datum.k === 'loss'"}], "mark": {"type": "text", "align": "left", "baseline": "alphabetic", "fontSize": 23, "color": "#111"}, "encoding": {"text": {"field": "txt"}}},
{"transform": [{"filter": "datum.k === 'x5'"}], "mark": {"type": "text", "align": "right", "baseline": "alphabetic", "fontSize": 25, "color": "#111"}, "encoding": {"text": {"field": "txt"}}}
]
}
},
{
"width": 491,
"height": 1,
"view": {"stroke": null},
"data": {"values": [{"tof": 2}, {"tof": 30}]},
"mark": {"type": "point", "opacity": 0},
"encoding": {
"x": {"field": "tof", "type": "quantitative", "scale": {"domain": [2, 30], "nice": false, "zero": false},
"axis": {"values": [5, 10, 15, 20, 25, 30], "ticks": false, "domain": false, "grid": false, "labelFontSize": 20, "labelColor": "#111", "labelPadding": 5, "title": "TOF / µs", "titleFontSize": 21, "titleFontWeight": "normal", "titleColor": "#111", "titlePadding": 1}}
}
}
]
}
